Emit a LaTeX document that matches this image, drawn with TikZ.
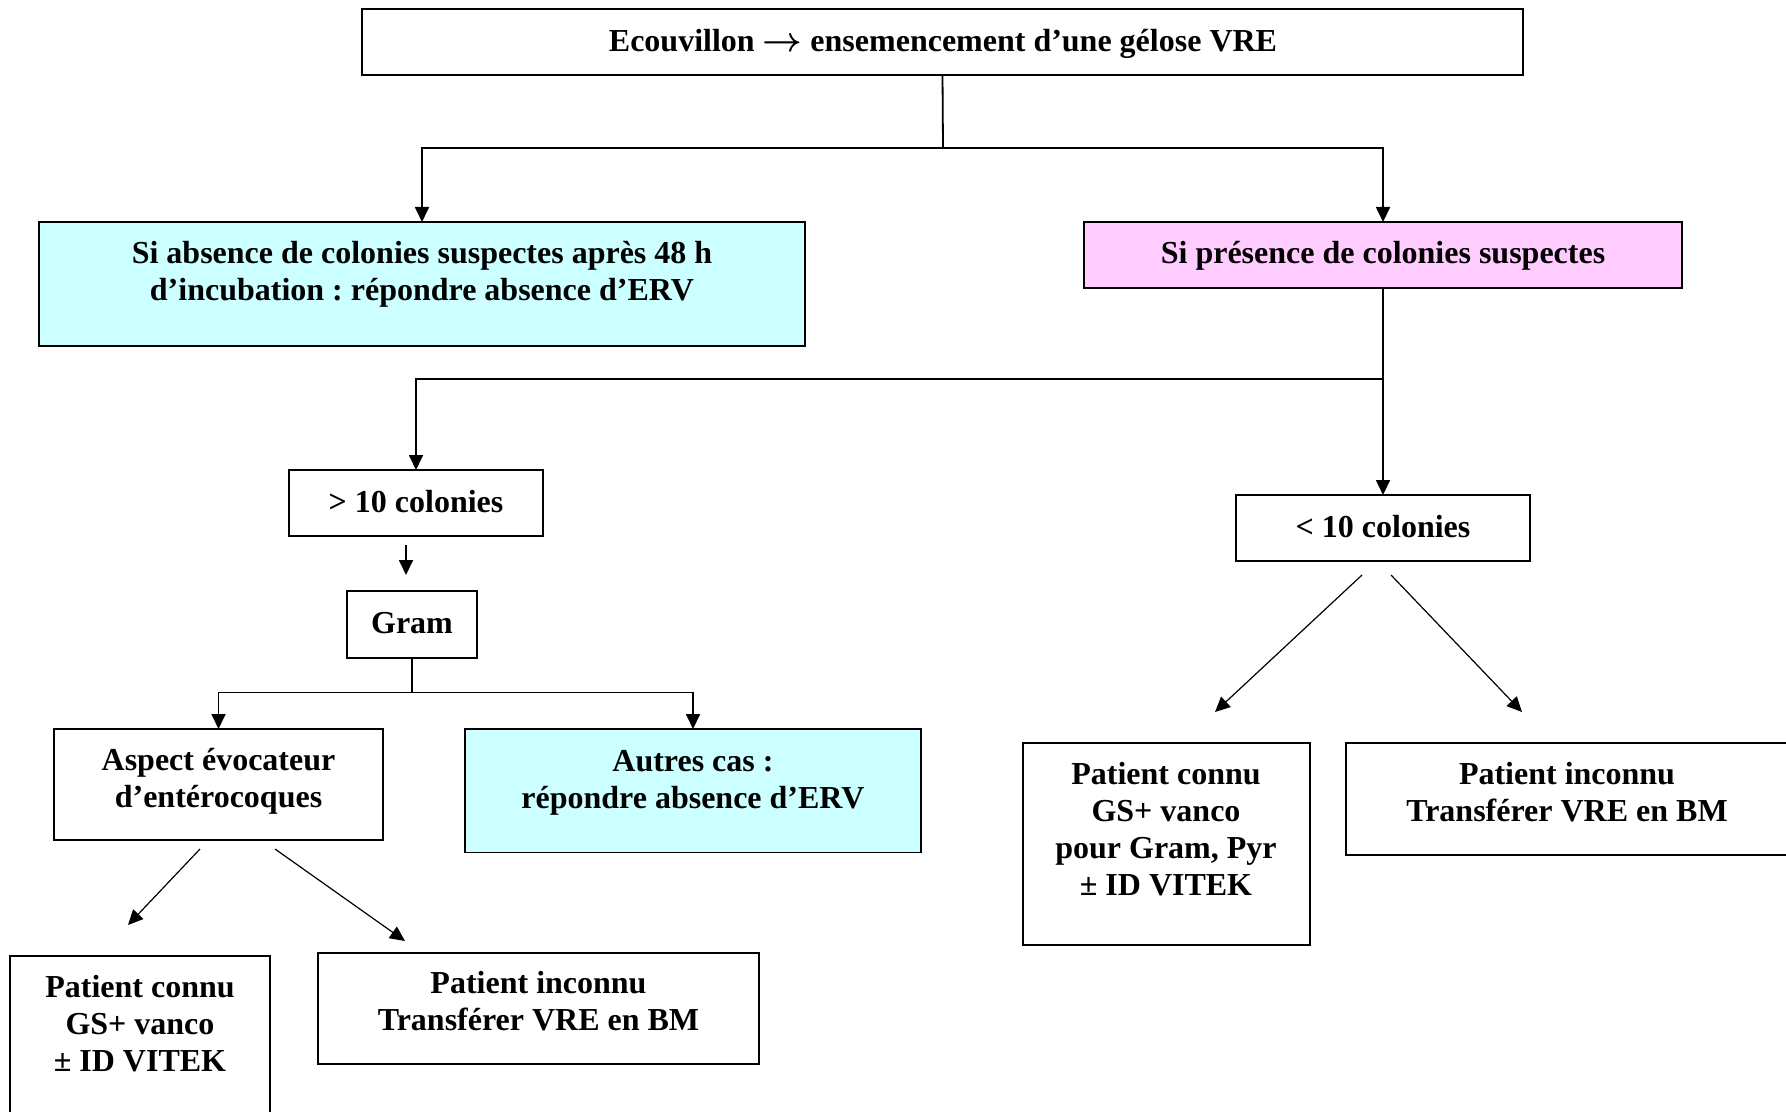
\documentclass[tikz,border=0pt]{standalone}
\usepackage{fontspec}
\setmainfont{Liberation Serif}
\usetikzlibrary{arrows.meta}
\definecolor{cyanbox}{RGB}{204,255,255}
\definecolor{pinkbox}{RGB}{255,204,255}
\newcommand\firstln{\rule{0pt}{12pt}}
\frenchspacing
\begin{document}
\begin{tikzpicture}[x=0.5pt,y=-0.5pt,
  box/.style={draw=black,line width=0.9pt,rectangle,inner sep=0pt,outer sep=0pt,anchor=north west},
  txt/.style={font=\fontsize{16}{18.5}\selectfont\bfseries,align=center,inner sep=0pt,outer sep=0pt,anchor=north},
  conn/.style={line width=0.9pt},
  arr/.style={conn,-{Triangle[length=7.5pt,width=7pt]}},
  diag/.style={line width=0.6pt,-{Triangle[length=7.5pt,width=7pt]}}]
\useasboundingbox (0,0) rectangle (1786,1112);
\clip (0,0) rectangle (1786,1112);
% boxes
\node[box,minimum width=580.5pt,minimum height=33pt] (top) at (362,9) {};
\node[box,fill=cyanbox,minimum width=383pt,minimum height=62pt] (absence) at (39,222) {};
\node[box,fill=pinkbox,minimum width=299pt,minimum height=33pt] (presence) at (1084,222) {};
\node[box,minimum width=127pt,minimum height=33pt] (gt10) at (289,470) {};
\node[box,minimum width=147pt,minimum height=33pt] (lt10) at (1236,495) {};
\node[box,minimum width=65pt,minimum height=33.5pt] (gram) at (347,591) {};
\node[box,minimum width=164.5pt,minimum height=55.5pt] (aspect) at (54,729) {};
\node[box,fill=cyanbox,minimum width=228pt,minimum height=61.75pt] (autres) at (465,729) {};
\node[box,minimum width=130pt,minimum height=82pt] (pcL) at (10,956) {};
\node[box,minimum width=220.5pt,minimum height=55.5pt] (piL) at (318,953) {};
\node[box,minimum width=143.5pt,minimum height=101pt] (pcR) at (1023,743) {};
\node[box,minimum width=222pt,minimum height=56pt] (piR) at (1346,743) {};
% texts
\node[txt] (t-top) at (943,28) {\firstln Ecouvillon {\boldmath$\rightarrow$} ensemencement d’une gélose VRE};
\node[txt] (t-absence) at (422,239.5) {\firstln Si absence de colonies suspectes après 48 h\\d’incubation : répondre absence d’ERV};
\node[txt] (t-presence) at (1383,239.5) {\firstln Si présence de colonies suspectes};
\node[txt] (t-gt10) at (416,488) {\firstln > 10 colonies};
\node[txt] (t-lt10) at (1383,513) {\firstln < 10 colonies};
\node[txt] (t-gram) at (412,609) {\firstln Gram};
\node[txt] (t-aspect) at (218.5,746) {\firstln Aspect évocateur\\d’entérocoques};
\node[txt] (t-autres) at (693,747) {\firstln Autres cas :\\répondre absence d’ERV};
\node[txt] (t-pcL) at (140,973) {\firstln Patient connu\\GS+ vanco\\± ID VITEK};
\node[txt] (t-piL) at (538.5,969) {\firstln Patient inconnu\\Transférer VRE en BM};
\node[txt] (t-pcR) at (1166,760) {\firstln Patient connu\\GS+ vanco\\pour Gram, Pyr\\± ID VITEK};
\node[txt] (t-piR) at (1567,760) {\firstln Patient inconnu\\Transférer VRE en BM};
% junctions and free ends
\coordinate (j1) at (943,148);
\coordinate (j2) at (1383,379);
\coordinate (j3) at (412,692.5);
\coordinate (s1) at (406,545);
\coordinate (e1) at (406,575);
\coordinate (s2) at (200,849);
\coordinate (e2) at (128,925);
\coordinate (s3) at (275,849);
\coordinate (e3) at (405,941);
\coordinate (s4) at (1362,575);
\coordinate (e4) at (1215,712);
\coordinate (s5) at (1391,575);
\coordinate (e5) at (1522,712);
% connectors
\draw[conn] (top.south) -- (j1);
\draw[arr] (j1) -| (absence.north);
\draw[arr] (j1) -| (presence.north);
\draw[conn] (presence.south) -- (j2);
\draw[arr] (j2) -| (gt10.north);
\draw[arr] (j2) -- (lt10.north);
\draw[arr] (s1) -- (e1);
\draw[conn] (gram.south) -- (j3);
\draw[arr] (j3) -| (aspect.north);
\draw[arr] (j3) -| (autres.north);
\draw[diag] (s2) -- (e2);
\draw[diag] (s3) -- (e3);
\draw[diag] (s4) -- (e4);
\draw[diag] (s5) -- (e5);
\end{tikzpicture}
\end{document}
